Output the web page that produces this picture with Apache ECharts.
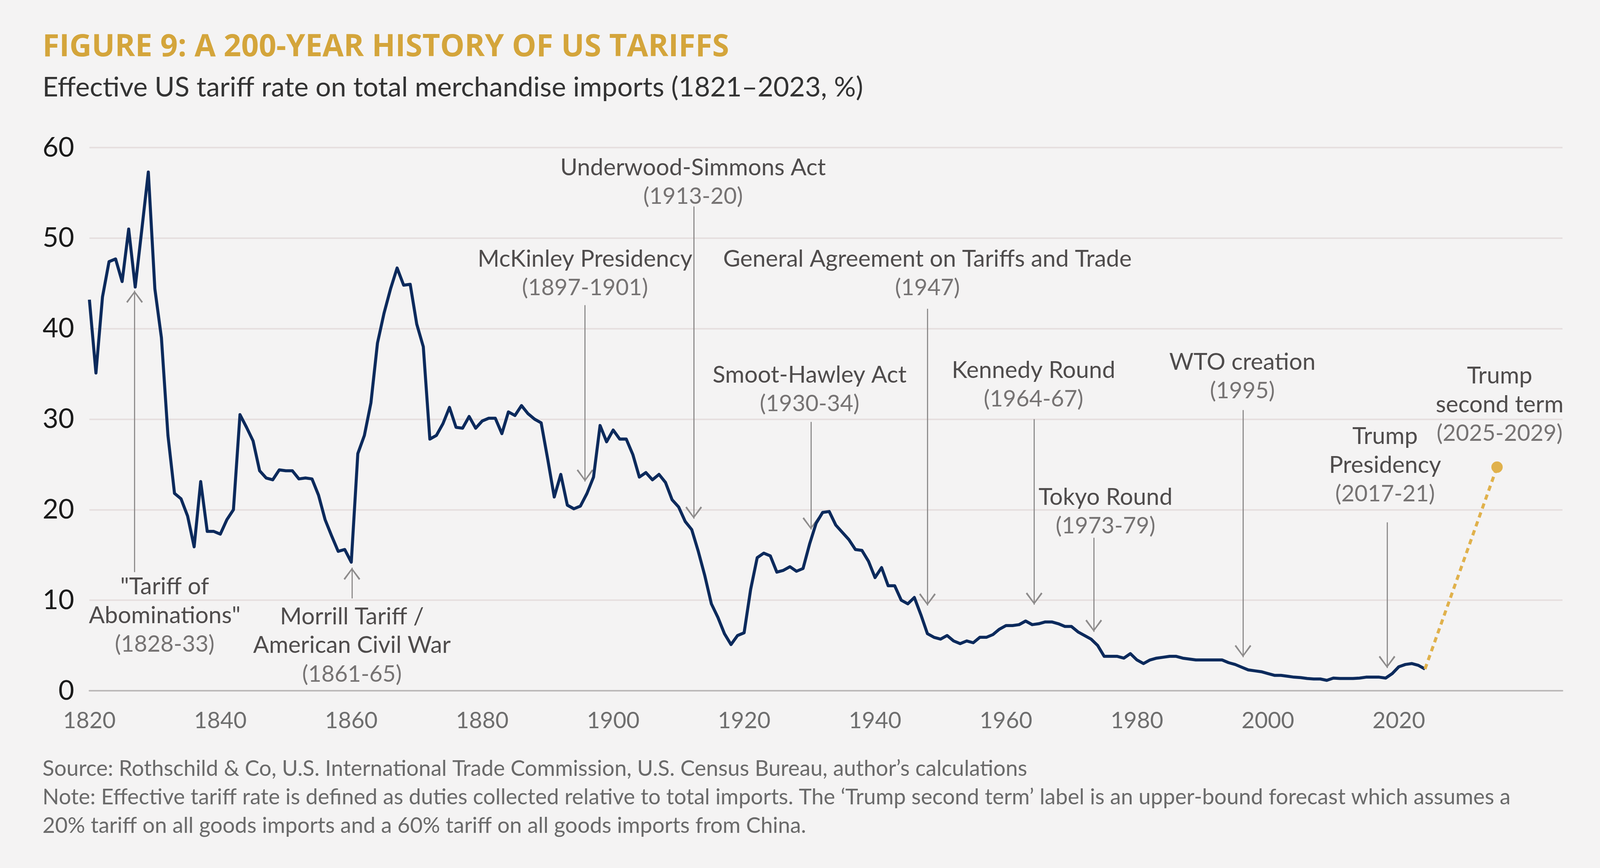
<!DOCTYPE html>
<html>
<head>
<meta charset="utf-8">
<title>A 200-year history of US tariffs</title>
<script src="https://cdn.jsdelivr.net/npm/echarts@6.0.0/dist/echarts.min.js"></script>
<style>
    html, body { margin: 0; padding: 0; overflow: hidden; background: #f4f3f3; }
    #main { width: 100vw; height: 100vh; }
</style>
</head>
<body>
<div id="main"></div>
<script>
// effective tariff rate (%), one value a year, grouped by decade
const rate1820s = [43.2, 35.1, 43.5, 47.4, 47.7, 45.2, 51.0, 44.6, 50.9, 57.3];
const rate1830s = [44.4, 39.0, 28.2, 21.8, 21.2, 19.3, 15.9, 23.1, 17.6, 17.6];
const rate1840s = [17.3, 18.9, 20.0, 30.5, 29.1, 27.6, 24.3, 23.5, 23.3, 24.4];
const rate1850s = [24.3, 24.3, 23.4, 23.5, 23.4, 21.6, 18.9, 17.1, 15.4, 15.6];
const rate1860s = [14.2, 26.2, 28.2, 31.8, 38.4, 41.7, 44.4, 46.7, 44.8, 44.9];
const rate1870s = [40.5, 38.0, 27.8, 28.2, 29.5, 31.3, 29.1, 29.0, 30.3, 29.0];
const rate1880s = [29.8, 30.1, 30.1, 28.4, 30.8, 30.4, 31.5, 30.6, 30.0, 29.6];
const rate1890s = [25.6, 21.4, 23.9, 20.5, 20.1, 20.4, 21.8, 23.6, 29.3, 27.5];
const rate1900s = [28.8, 27.8, 27.8, 26.1, 23.6, 24.1, 23.3, 23.9, 23.0, 21.1];
const rate1910s = [20.3, 18.7, 17.8, 15.4, 12.7, 9.6, 8.1, 6.3, 5.1, 6.1];
const rate1920s = [6.4, 11.2, 14.7, 15.2, 14.9, 13.1, 13.3, 13.7, 13.2, 13.5];
const rate1930s = [16.2, 18.5, 19.7, 19.8, 18.3, 17.5, 16.7, 15.6, 15.5, 14.3];
const rate1940s = [12.5, 13.6, 11.6, 11.6, 10.0, 9.6, 10.3, 8.4, 6.3, 5.9];
const rate1950s = [5.7, 6.1, 5.5, 5.2, 5.5, 5.3, 5.9, 5.9, 6.2, 6.8];
const rate1960s = [7.2, 7.2, 7.3, 7.7, 7.3, 7.4, 7.6, 7.6, 7.4, 7.1];
const rate1970s = [7.1, 6.5, 6.1, 5.7, 5.0, 3.8, 3.8, 3.8, 3.6, 4.1];
const rate1980s = [3.4, 3.0, 3.4, 3.6, 3.7, 3.8, 3.8, 3.6, 3.5, 3.4];
const rate1990s = [3.4, 3.4, 3.4, 3.4, 3.1, 2.9, 2.6, 2.3, 2.2, 2.1];
const rate2000s = [1.9, 1.7, 1.7, 1.6, 1.5, 1.45, 1.35, 1.3, 1.3, 1.15];
const rate2010s = [1.4, 1.35, 1.35, 1.35, 1.4, 1.5, 1.5, 1.5, 1.4, 1.9];
const rate2020s = [2.65, 2.9, 3.0, 2.8, 2.4];

const decades = [
    [1820, rate1820s], [1830, rate1830s], [1840, rate1840s], [1850, rate1850s],
    [1860, rate1860s], [1870, rate1870s], [1880, rate1880s], [1890, rate1890s],
    [1900, rate1900s], [1910, rate1910s], [1920, rate1920s], [1930, rate1930s],
    [1940, rate1940s], [1950, rate1950s], [1960, rate1960s], [1970, rate1970s],
    [1980, rate1980s], [1990, rate1990s], [2000, rate2000s], [2010, rate2010s],
    [2020, rate2020s]
];

// upper-bound forecast for the second Trump term
const forecastYears = [2024, 2035];
const forecastRate = [2.4, 24.7];

const xTicks = [1820, 1840, 1860, 1880, 1900, 1920, 1940, 1960, 1980, 2000, 2020];

// annotations: label centre [year, %] and arrow [year, from %, tip %]
const notes = [
    { name: '"Tariff of\nAbominations"', period: '(1828-33)', at: [1831.5, 8.3], arrow: [1826.9, 13.1, 44.2] },
    { name: 'Morrill Tariff /\nAmerican Civil War', period: '(1861-65)', at: [1860.1, 5.0], arrow: [1860.1, 10.2, 13.6] },
    { name: 'McKinley Presidency', period: '(1897-1901)', at: [1895.7, 46.1], arrow: [1895.7, 42.6, 23.1] },
    { name: 'Underwood-Simmons Act', period: '(1913-20)', at: [1912.2, 56.2], arrow: [1912.3, 53.5, 19.0] },
    { name: 'Smoot-Hawley Act', period: '(1930-34)', at: [1930.0, 33.3], arrow: [1930.2, 29.7, 17.8] },
    { name: 'General Agreement on Tariffs and Trade', period: '(1947)', at: [1948.0, 46.1], arrow: [1948.0, 42.2, 9.4] },
    { name: 'Kennedy Round', period: '(1964-67)', at: [1964.2, 33.8], arrow: [1964.3, 30.0, 9.5] },
    { name: 'Tokyo Round', period: '(1973-79)', at: [1975.2, 19.8], arrow: [1973.4, 16.9, 6.5] },
    { name: 'WTO creation', period: '(1995)', at: [1996.1, 34.7], arrow: [1996.2, 31.0, 3.7] },
    { name: 'Trump\nPresidency', period: '(2017-21)', at: [2017.9, 24.9], arrow: [2018.2, 18.6, 2.5] },
    { name: 'Trump\nsecond term', period: '(2025-2029)', at: [2035.4, 31.6], arrow: null }
];

const titleText = 'FIGURE 9: A 200-YEAR HISTORY OF US TARIFFS';
const subtitleText = 'Effective US tariff rate on total merchandise imports (1821\u20132023, %)';
const sourceText = [
    'Source: Rothschild & Co, U.S. International Trade Commission, U.S. Census Bureau, author\u2019s calculations',
    'Note: Effective tariff rate is defined as duties collected relative to total imports. The \u2018Trump second term\u2019 label is an upper-bound forecast which assumes a',
    '20% tariff on all goods imports and a 60% tariff on all goods imports from China.'
];

const FONT = 'Lato';
// open "V" arrow head, tip up, drawn in a 44 x 32 box
const chevron = 'path://M22,0 L44,29 L40.5,32 L22,6 L3.5,32 L0,29 Z';
// half the head height in axis units (32px head, 23.2px per percent)
const HEAD = 0.69;

const box = document.getElementById('main');
const W = box.clientWidth;
const H = box.clientHeight;
// layout was measured on a 4224 x 2223 canvas
const sx = W / 4224;
const sy = H / 2223;
const s = Math.min(sx, sy);

let series = [];
decades.forEach(([start, values]) => {
    values.forEach((v, i) => series.push([start + i, v]));
});

let labelData = notes.map(n => {
    let lines = n.name.split('\n').map(t => '{n|' + t + '}');
    lines.push('{p|' + n.period + '}');
    return {
        coord: n.at,
        symbolSize: 0,
        label: { formatter: lines.join('\n') }
    };
});

// each arrow = a shaft to the tip + an invisible line that carries the head,
// ending half a head short so the head's tip lands on the tip point
let arrowData = [];
notes.filter(n => n.arrow).forEach(n => {
    let [x, from, tip] = n.arrow;
    let headAt = tip + (from > tip ? HEAD : -HEAD);
    arrowData.push([
        { coord: [x, from], symbol: 'none' },
        { coord: [x, tip], symbol: 'none' }
    ]);
    arrowData.push([
        { coord: [x, from], lineStyle: { width: 0 } },
        { coord: [x, headAt], lineStyle: { width: 0 } }
    ]);
});

let myChart = echarts.init(box);
myChart.setOption({
    backgroundColor: '#f4f3f3',
    animation: false,
    textStyle: { fontFamily: FONT },
    title: [{
        text: titleText,
        left: 107 * sx,
        top: 77 * sy,
        textStyle: { fontFamily: 'Open Sans', fontWeight: 'bold', fontSize: 81 * s, color: '#d4a53b' }
    }, {
        text: subtitleText,
        left: 107 * sx,
        top: 184 * sy,
        textStyle: { fontFamily: FONT, fontWeight: 'normal', fontSize: 72 * s, color: '#333333' }
    }, {
        text: sourceText.join('\n'),
        left: 107 * sx,
        top: 1928 * sy,
        textStyle: { fontFamily: FONT, fontWeight: 'normal', fontSize: 57.4 * s, lineHeight: 75 * s, color: '#6a6a6a' }
    }],
    grid: {
        left: 236 * sx,
        right: 99 * sx,
        top: 378 * sy,
        bottom: 454 * sy,
        outerBoundsMode: 'none'
    },
    xAxis: {
        type: 'value',
        min: 1820,
        max: 2045,
        interval: 20,
        splitLine: { show: false },
        axisTick: { show: false },
        axisLine: { show: true, lineStyle: { color: '#bcb9b9', width: 4 * s } },
        axisLabel: {
            customValues: xTicks,
            formatter: v => String(v),
            fontFamily: FONT,
            fontSize: 60 * s,
            color: '#6e6e6e',
            margin: 50 * s
        }
    },
    yAxis: {
        type: 'value',
        min: 0,
        max: 60,
        interval: 10,
        axisLine: { show: false },
        axisTick: { show: false },
        splitLine: { lineStyle: { color: '#e6dfdf', width: 4 * s } },
        axisLabel: { fontFamily: FONT, fontSize: 72 * s, color: '#1a1a1a', margin: 40 * s }
    },
    series: [{
        name: 'Effective tariff rate',
        type: 'line',
        data: series,
        showSymbol: false,
        silent: true,
        z: 3,
        lineStyle: { color: '#0c2a5c', width: 8 * s, join: 'round' },
        markLine: {
            silent: true,
            symbol: ['none', chevron],
            symbolSize: [44 * s, 32 * s],
            lineStyle: { color: '#8d8b8b', width: 3 * s, type: 'solid' },
            label: { show: false },
            emphasis: { disabled: true },
            z: 2,
            data: arrowData
        },
        markPoint: {
            silent: true,
            symbol: 'circle',
            symbolSize: 0,
            label: {
                show: true,
                position: 'inside',
                align: 'center',
                verticalAlign: 'middle',
                rich: {
                    n: { fontFamily: FONT, fontSize: 62 * s, lineHeight: 76 * s, color: '#4f4c4c', align: 'center' },
                    p: { fontFamily: FONT, fontSize: 60 * s, lineHeight: 76 * s, color: '#767373', align: 'center' }
                }
            },
            data: labelData
        }
    }, {
        name: 'Trump second term',
        type: 'line',
        data: forecastYears.map((y, i) => ({
            value: [y, forecastRate[i]],
            symbol: i === forecastYears.length - 1 ? 'circle' : 'none',
            symbolSize: 30 * s
        })),
        silent: true,
        z: 4,
        lineStyle: { color: '#e0b14c', width: 8 * s, type: [14 * s, 11 * s] },
        itemStyle: { color: '#e0b14c' }
    }]
});
</script>
</body>
</html>
